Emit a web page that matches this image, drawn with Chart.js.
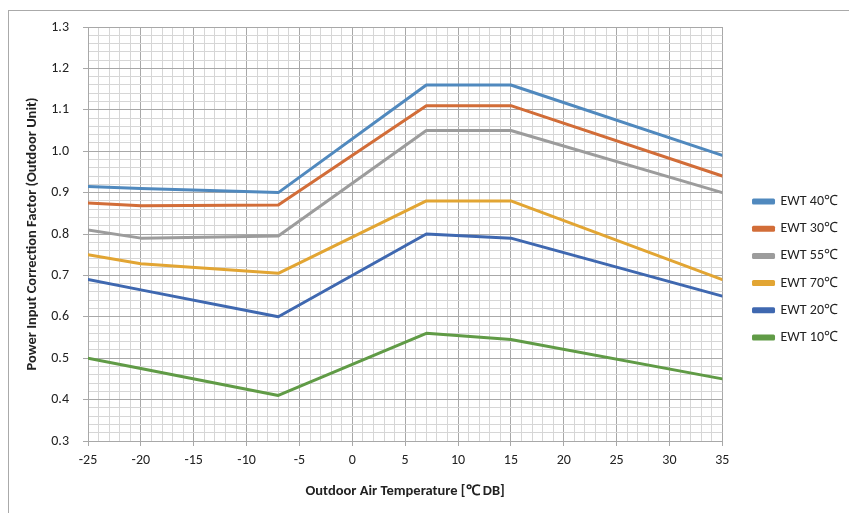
<!DOCTYPE html>
<html>
<head>
<meta charset="utf-8">
<script src="https://cdn.jsdelivr.net/npm/chart.js@4.4.1/dist/chart.umd.min.js"></script>
<style>
  html, body { margin: 0; padding: 0; background: #fff; overflow: hidden; }
  #frame { position: absolute; left: 8px; top: 10px; width: 900px; height: 600px; border: 1px solid #aaaaaa; }
  #wrap { position: absolute; left: 0; top: 0; width: 880px; height: 513px; }
</style>
</head>
<body>
<div id="frame"></div>
<div id="wrap"><canvas id="chart"></canvas></div>
<script>
// outdoor air temperature (deg C DB) at each break point
const temps = [-25, -20, -7, 7, 15, 35];

// power input correction factor per entering water temperature
const ewt40 = [0.915, 0.91, 0.90, 1.16, 1.16, 0.99];
const ewt30 = [0.875, 0.868, 0.87, 1.11, 1.11, 0.94];
const ewt55 = [0.81, 0.79, 0.795, 1.05, 1.05, 0.90];
const ewt70 = [0.75, 0.728, 0.705, 0.88, 0.88, 0.69];
const ewt20 = [0.69, 0.665, 0.60, 0.80, 0.79, 0.65];
const ewt10 = [0.50, 0.475, 0.41, 0.56, 0.545, 0.45];

const seriesNames = ["EWT 40℃", "EWT 30℃", "EWT 55℃", "EWT 70℃", "EWT 20℃", "EWT 10℃"];
const seriesValues = [ewt40, ewt30, ewt55, ewt70, ewt20, ewt10];
const seriesColors = ["#5089be", "#d26d38", "#9c9c9c", "#e2a533", "#3f68b0", "#609b46"];

const font = "Carlito, Lato, 'Open Sans', sans-serif";

const datasets = seriesNames.map(function (name, i) {
  return {
    label: name,
    data: temps.map(function (t, j) { return { x: t, y: seriesValues[i][j] }; }),
    borderColor: seriesColors[i],
    backgroundColor: seriesColors[i],
    borderWidth: 3,
    pointRadius: 0,
    borderJoinStyle: "round",
    borderCapStyle: "round",
    tension: 0
  };
});

function isMajorX(v) { return Math.abs(v % 5) < 1e-6; }
function isMajorY(v) { return Math.abs(v * 10 - Math.round(v * 10)) < 1e-6; }

new Chart(document.getElementById("chart"), {
  type: "line",
  data: { datasets: datasets },
  options: {
    responsive: true,
    maintainAspectRatio: false,
    animation: false,
    layout: { padding: { top: 27, left: 0, right: 32, bottom: 1 } },
    plugins: {
      tooltip: { enabled: false },
      legend: {
        position: "right",
        labels: {
          boxWidth: 20,
          boxHeight: 3,
          padding: 13.2,
          color: "#222",
          font: { family: font, size: 14 }
        }
      }
    },
    scales: {
      x: {
        type: "linear",
        min: -25,
        max: 35,
        afterFit: function (s) { s.height = 71; },
        ticks: {
          stepSize: 1,
          autoSkip: false,
          maxRotation: 0,
          padding: 6,
          color: "#222",
          font: { family: font, size: 14 },
          callback: function (v) { return isMajorX(v) ? String(v) : ""; }
        },
        grid: {
          color: function (c) { return isMajorX(c.tick.value) ? "#a8a8a8" : "#d6d6d6"; },
          tickColor: function (c) { return isMajorX(c.tick.value) ? "#a8a8a8" : "rgba(0,0,0,0)"; },
          tickLength: 5
        },
        border: { color: "#a8a8a8" },
        title: {
          display: true,
          text: "Outdoor Air Temperature [℃ DB]",
          color: "#222",
          font: { family: font, size: 14.5, weight: "bold" },
          padding: { top: 0, bottom: 12 }
        }
      },
      y: {
        min: 0.3,
        max: 1.3,
        afterFit: function (s) { s.width = 88; },
        ticks: {
          stepSize: 0.02,
          autoSkip: false,
          padding: 14,
          color: "#222",
          font: { family: font, size: 14 },
          callback: function (v) { return isMajorY(v) ? v.toFixed(1) : ""; }
        },
        grid: {
          color: function (c) { return isMajorY(c.tick.value) ? "#a8a8a8" : "#d6d6d6"; },
          tickColor: function (c) { return isMajorY(c.tick.value) ? "#a8a8a8" : "rgba(0,0,0,0)"; },
          tickLength: 5
        },
        border: { color: "#a8a8a8" },
        title: {
          display: true,
          text: "Power Input Correction Factor (Outdoor Unit)",
          color: "#222",
          font: { family: font, size: 14.5, weight: "bold" },
          padding: { top: 24, bottom: 0 }
        }
      },
      // spacer between the plot and the legend
      gap: {
        type: "linear",
        position: "right",
        min: 0,
        max: 1,
        afterFit: function (s) { s.width = 18; },
        ticks: { display: false },
        grid: { display: false, drawTicks: false },
        border: { display: false }
      }
    }
  }
});
</script>
</body>
</html>
